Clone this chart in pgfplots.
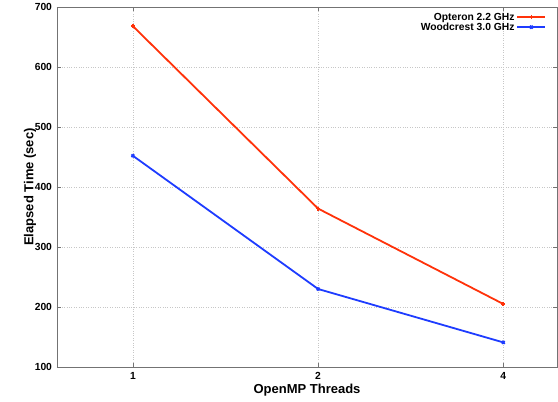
\documentclass[border=0pt]{standalone}
\usepackage{pgfplots}
\pgfplotsset{compat=1.18}
\usepackage{fontspec}
\setmainfont{Liberation Sans}
\definecolor{optred}{RGB}{255,50,10}
\definecolor{woodblue}{RGB}{30,60,255}
\begin{document}
\begin{tikzpicture}
\begin{axis}[
  name=ax,
  scale only axis,
  width=500pt, height=360pt,
  xmin=-0.41, xmax=2.29,
  ymin=100, ymax=700,
  xtick={0,1,2}, xticklabels={1,2,4},
  ytick={100,200,...,700},
  /pgf/number format/assume math mode=true,
  ticklabel style={font=\bfseries\fontsize{10.3}{12}\selectfont},
  yticklabel style={xshift=-1.5pt},
  xticklabel style={yshift=-2pt},
  label style={font=\bfseries\fontsize{13}{15}\selectfont},
  xlabel={OpenMP Threads},
  ylabel={Elapsed Time (sec)},
  xlabel style={at={(axis description cs:0.5,-0.064)}, anchor=center},
  ylabel style={at={(axis description cs:-0.054,0.5)}, anchor=center},
  axis line style={draw=black!55, line width=0.8pt},
  tick style={draw=black!55},
  tick align=inside,
  major tick length=4pt,
  grid=major,
  grid style={dotted, draw=black!22, line width=0.4pt},
  legend style={at={(0.985,0.995)}, anchor=north east, draw=none, fill=none,
    font=\bfseries\fontsize{10.3}{12}\selectfont, row sep=-3pt},
  legend cell align=right,
  legend plot pos=right,
  legend image code/.code={
    \draw[#1] (0pt,0pt) -- (28pt,0pt);
    \draw[#1, only marks] plot coordinates {(14pt,0pt)};
  },
]
  \addplot[optred, line width=1.8pt, mark=+, mark size=2pt]
    coordinates {(0,668) (1,364) (2,205)};
  \addlegendentry{Opteron 2.2 GHz}
  \addplot[woodblue, line width=1.8pt, mark=x, mark size=2pt]
    coordinates {(0,452) (1,230) (2,141)};
  \addlegendentry{Woodcrest 3.0 GHz}
\end{axis}
\path (ax.south west) ++(-57pt,-35pt);
\path (ax.north east) ++(1pt,7pt);
\end{tikzpicture}
\end{document}
